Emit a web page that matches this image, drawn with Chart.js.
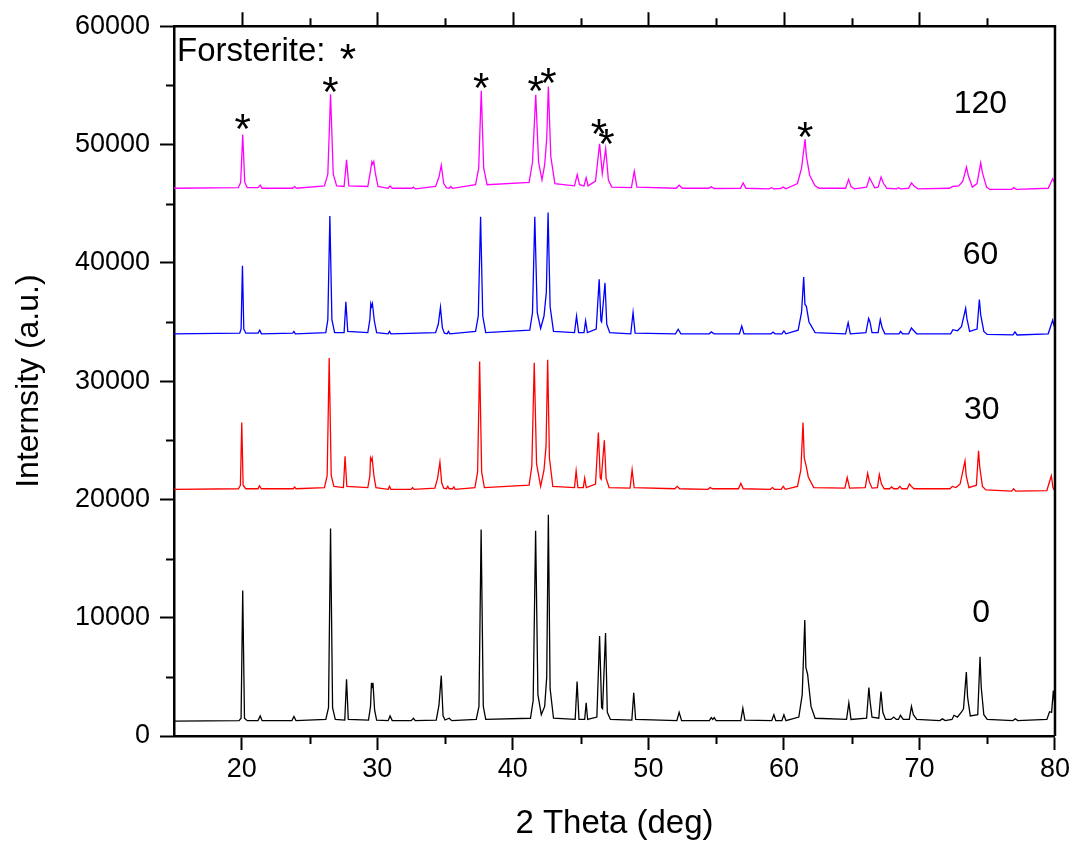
<!DOCTYPE html>
<html>
<head>
<meta charset="utf-8">
<script src="https://cdn.jsdelivr.net/npm/chart.js@4.4.1/dist/chart.umd.min.js"></script>
<style>
  html, body { margin: 0; padding: 0; background: #fff; }
  #wrap { width: 1073px; height: 844px; }
</style>
</head>
<body>
<div id="wrap"><canvas id="xrdChart" width="1073" height="844"></canvas></div>
<script>
// axis ticks
const xTicks = [20, 30, 40, 50, 60, 70, 80];
const yTicks = [0, 10000, 20000, 30000, 40000, 50000, 60000];

// milling time labels, bottom to top
const seriesNames = ['0', '30', '60', '120'];

// XRD patterns as [2theta, intensity]
const pattern0 = [
  [15, 1250], [19.8, 1300], [19.95, 1500], [20.07, 12300], [20.2, 1500], [20.4, 1300],
  [21.2, 1300], [21.36, 1700], [21.5, 1300],
  [23.7, 1300], [23.85, 1650], [24.0, 1300],
  [26.2, 1400], [26.4, 2400], [26.55, 17550], [26.7, 2400], [26.9, 1400],
  [27.6, 1350], [27.73, 4800], [27.86, 1400],
  [29.35, 1350], [29.5, 2500], [29.57, 4500], [29.62, 4100], [29.68, 4500], [29.8, 2200], [29.95, 1350],
  [30.8, 1300], [30.94, 1700], [31.1, 1300],
  [32.5, 1300], [32.67, 1500], [32.8, 1300],
  [34.35, 1350], [34.55, 2600], [34.72, 5100], [34.85, 1700], [35.0, 1350],
  [35.3, 1500], [35.5, 1300],
  [37.3, 1400], [37.5, 2500], [37.66, 17450], [37.82, 2500], [38.0, 1400],
  [41.3, 1500], [41.5, 3000], [41.68, 17350], [41.85, 3500], [42.1, 1800],
  [42.35, 2500], [42.5, 5000], [42.62, 18700], [42.75, 4000], [43.0, 1500],
  [44.6, 1400], [44.74, 4600], [44.88, 1400],
  [45.3, 1400], [45.41, 2800], [45.52, 1400],
  [46.2, 1600], [46.4, 8450], [46.55, 2400], [46.62, 2300], [46.84, 8700], [46.97, 2000], [47.2, 1400],
  [48.78, 1350], [48.92, 3650], [49.06, 1400],
  [52.1, 1300], [52.27, 2000], [52.45, 1300],
  [54.5, 1300], [54.64, 1550], [54.75, 1400], [54.86, 1550], [55.0, 1300],
  [56.82, 1300], [56.97, 2350], [57.12, 1350],
  [59.1, 1300], [59.26, 1800], [59.4, 1300],
  [59.85, 1300], [60.0, 1800], [60.15, 1300],
  [61.1, 1600], [61.35, 3500], [61.54, 9800], [61.62, 5800], [61.75, 5200], [61.85, 4100], [62.0, 2500], [62.3, 1500],
  [64.62, 1400], [64.79, 2800], [64.95, 1400],
  [66.1, 1500], [66.27, 4100], [66.35, 3000], [66.5, 1600],
  [67.0, 1500], [67.16, 3750], [67.3, 2000], [67.5, 1400],
  [67.9, 1400], [68.1, 1600], [68.3, 1400],
  [68.45, 1400], [68.6, 1750], [68.8, 1400],
  [69.25, 1400], [69.41, 2500], [69.55, 1800], [69.8, 1400],
  [71.5, 1300], [71.7, 1450], [71.9, 1300],
  [72.4, 1400], [72.55, 1750], [72.8, 1600], [73.12, 2050], [73.25, 2300], [73.46, 5400], [73.55, 3300], [73.75, 1700],
  [74.3, 1800], [74.47, 6700], [74.56, 4100], [74.75, 1800], [75.0, 1400],
  [76.9, 1300], [77.07, 1450], [77.25, 1300],
  [79.4, 1400], [79.6, 2050], [79.75, 2000], [79.88, 3850], [80.0, 2500]
];

const pattern30 = [
  [15, 20850], [19.75, 20900], [19.9, 21200], [20.0, 26500], [20.1, 21200], [20.3, 20900],
  [21.2, 20900], [21.3, 21150], [21.45, 20900],
  [23.8, 20900], [23.9, 21050], [24.0, 20900],
  [26.1, 21000], [26.3, 22000], [26.45, 31950], [26.6, 22000], [26.8, 21100],
  [27.5, 21000], [27.62, 23650], [27.75, 21100],
  [29.3, 21000], [29.45, 22000], [29.5, 23500], [29.56, 23300], [29.62, 23500], [29.75, 22000], [29.9, 21000],
  [30.8, 20850], [30.9, 21100], [31.0, 20850],
  [32.5, 20850], [32.6, 21000], [32.7, 20850],
  [34.25, 20950], [34.45, 21800], [34.62, 23150], [34.75, 21400], [34.9, 20950],
  [35.1, 20900], [35.2, 21100], [35.3, 20900], [35.55, 20900], [35.65, 21050], [35.75, 20850],
  [37.2, 21000], [37.4, 22300], [37.55, 31650], [37.7, 22300], [37.9, 21000],
  [41.2, 21200], [41.4, 22800], [41.58, 31550], [41.75, 23000], [42.05, 21100],
  [42.3, 22500], [42.45, 24500], [42.57, 31800], [42.7, 23500], [42.95, 21100],
  [44.55, 21000], [44.67, 22400], [44.8, 21000],
  [45.2, 21000], [45.3, 21800], [45.42, 21000],
  [46.1, 21300], [46.31, 25650], [46.45, 21800], [46.52, 21700], [46.75, 25000], [46.88, 21800], [47.1, 21000],
  [48.65, 20950], [48.8, 22500], [48.95, 21000],
  [51.95, 20900], [52.13, 21100], [52.3, 20900],
  [54.4, 20850], [54.55, 21000], [54.75, 20900],
  [56.65, 20900], [56.82, 21350], [57.0, 20900],
  [59.0, 20850], [59.15, 21000], [59.3, 20850],
  [59.8, 20850], [59.95, 21100], [60.1, 20850],
  [61.0, 21100], [61.25, 22500], [61.41, 26500], [61.5, 23500], [61.63, 22900], [61.8, 21900], [62.2, 21000],
  [64.5, 20950], [64.67, 21850], [64.85, 20950],
  [66.0, 21000], [66.18, 22200], [66.3, 21500], [66.5, 20950],
  [66.9, 21000], [67.04, 22100], [67.2, 21300], [67.4, 20900],
  [67.8, 20900], [67.95, 21050], [68.1, 20900], [68.4, 20900], [68.55, 21100], [68.7, 20900],
  [69.1, 20900], [69.26, 21300], [69.4, 21100], [69.6, 20900],
  [72.25, 20900], [72.42, 21100], [72.7, 21000], [73.0, 21300], [73.36, 23250], [73.45, 22000], [73.65, 21000],
  [74.2, 21200], [74.36, 24100], [74.45, 22700], [74.65, 21100], [74.9, 20800],
  [76.8, 20700], [76.95, 20900], [77.1, 20700],
  [79.4, 20750], [79.73, 22000], [79.85, 21000], [80, 20700]
];

const pattern60 = [
  [15, 34000], [19.85, 34050], [19.95, 34400], [20.05, 39750], [20.15, 34400], [20.3, 34050],
  [21.2, 34050], [21.33, 34300], [21.45, 34000],
  [23.75, 34050], [23.85, 34200], [23.95, 34000],
  [26.2, 34100], [26.35, 35200], [26.5, 43950], [26.65, 35200], [26.85, 34100],
  [27.55, 34100], [27.68, 36700], [27.82, 34200],
  [29.3, 34100], [29.45, 35200], [29.52, 36550], [29.58, 36300], [29.64, 36550], [29.78, 35100], [29.95, 34100],
  [30.8, 34000], [30.9, 34200], [31.0, 34000],
  [34.3, 34100], [34.5, 34800], [34.66, 36250], [34.8, 34500], [34.95, 34050],
  [35.15, 34000], [35.25, 34200], [35.35, 34000],
  [37.25, 34200], [37.45, 35500], [37.62, 43900], [37.78, 35500], [38.0, 34100],
  [41.25, 34300], [41.45, 35800], [41.62, 43900], [41.8, 35800], [42.05, 34450],
  [42.3, 35500], [42.47, 37500], [42.6, 44250], [42.75, 36300], [43.0, 34200],
  [44.55, 34100], [44.7, 35500], [44.85, 34100],
  [45.25, 34100], [45.37, 35100], [45.5, 34100],
  [46.15, 34400], [46.37, 38600], [46.5, 35100], [46.55, 35000], [46.8, 38300], [46.93, 34800], [47.15, 34100],
  [48.7, 34000], [48.87, 35800], [49.02, 34050],
  [52.0, 34000], [52.2, 34380], [52.4, 34000],
  [54.5, 34000], [54.64, 34160], [54.85, 34000],
  [56.72, 34000], [56.89, 34650], [57.05, 34000],
  [59.05, 34000], [59.2, 34150], [59.35, 34000],
  [59.85, 34000], [60.0, 34250], [60.15, 34000],
  [61.05, 34300], [61.3, 35800], [61.46, 38800], [61.55, 36500], [61.66, 36300], [61.85, 35000], [62.3, 34100],
  [64.55, 34000], [64.74, 34950], [64.9, 34000],
  [66.05, 34100], [66.25, 35300], [66.35, 35000], [66.5, 34100],
  [66.95, 34100], [67.11, 35200], [67.25, 34500], [67.45, 34000],
  [68.5, 34000], [68.6, 34200], [68.75, 34000],
  [69.2, 34000], [69.41, 34500], [69.55, 34300], [69.8, 34000],
  [72.3, 34000], [72.47, 34350], [72.8, 34250], [73.1, 34600], [73.41, 36150], [73.5, 35300], [73.7, 34200],
  [74.25, 34400], [74.42, 36900], [74.52, 35600], [74.75, 34200], [75.0, 33950],
  [76.9, 33900], [77.05, 34150], [77.2, 33900],
  [79.5, 34000], [79.83, 35150], [79.95, 34600], [80, 34400]
];

const pattern120 = [
  [15, 46300], [19.75, 46350], [19.92, 46800], [20.07, 50850], [20.22, 46800], [20.4, 46350],
  [21.2, 46350], [21.36, 46560], [21.5, 46300],
  [23.75, 46300], [23.9, 46450], [24.05, 46300],
  [26.1, 46500], [26.35, 47500], [26.55, 54250], [26.75, 47500], [27.0, 46500],
  [27.55, 46450], [27.73, 48700], [27.9, 46500],
  [29.3, 46450], [29.5, 47800], [29.6, 48550], [29.67, 48350], [29.74, 48550], [29.85, 47600], [30.05, 46450],
  [30.8, 46300], [30.94, 46500], [31.1, 46300],
  [32.55, 46300], [32.67, 46400], [32.8, 46250],
  [34.3, 46450], [34.55, 47250], [34.72, 48250], [34.9, 46700], [35.1, 46350],
  [35.3, 46300], [35.42, 46450], [35.55, 46300],
  [37.25, 46600], [37.48, 48000], [37.67, 54550], [37.85, 48000], [38.1, 46600],
  [41.2, 46800], [41.45, 48500], [41.69, 54200], [41.9, 48500], [42.15, 47000],
  [42.35, 48300], [42.5, 50500], [42.62, 54900], [42.8, 49000], [43.1, 46700],
  [44.55, 46500], [44.75, 47450], [44.92, 46600],
  [45.25, 46500], [45.41, 47200], [45.55, 46500],
  [46.1, 46900], [46.4, 50050], [46.6, 47550], [46.85, 49650], [47.05, 47000], [47.3, 46400],
  [48.75, 46350], [48.96, 47750], [49.15, 46400],
  [52.05, 46300], [52.27, 46560], [52.5, 46300],
  [54.45, 46300], [54.64, 46420], [54.85, 46280],
  [56.8, 46300], [56.99, 46750], [57.2, 46300],
  [58.9, 46250], [59.08, 46350], [59.25, 46250],
  [59.75, 46280], [59.95, 46400], [60.15, 46250],
  [61.0, 46700], [61.3, 48000], [61.56, 50450], [61.66, 49000], [61.75, 48400], [61.9, 47400], [62.3, 46500], [62.6, 46300],
  [64.55, 46300], [64.77, 47050], [64.95, 46450], [65.2, 46250],
  [66.1, 46400], [66.32, 47200], [66.45, 46900], [66.7, 46350],
  [66.95, 46400], [67.17, 47250], [67.35, 46700], [67.6, 46300],
  [68.3, 46250], [68.45, 46350], [68.6, 46250],
  [69.2, 46300], [69.41, 46750], [69.6, 46500], [69.9, 46250],
  [72.2, 46300], [72.45, 46450], [72.9, 46500], [73.2, 46900], [73.47, 48100], [73.6, 47400], [73.9, 46400],
  [74.25, 46700], [74.52, 48450], [74.65, 47600], [74.95, 46400], [75.2, 46200],
  [76.8, 46200], [76.95, 46350], [77.15, 46200],
  [79.5, 46300], [79.83, 47100], [80, 46700]
];

// forsterite peaks marked with * on the top pattern
const starTheta = [20.07, 26.55, 37.67, 41.69, 42.62, 46.35, 46.9, 61.56];
const starLevel = [51900, 55000, 55400, 55100, 55800, 51500, 50600, 51200];

const patterns = [pattern0, pattern30, pattern60, pattern120];
const lineColors = ['#000000', '#ff0000', '#0000ff', '#ff00ff'];
const namePos = [[74.55, 10600], [74.6, 27700], [74.5, 40800], [74.5, 53600]];

const fontFamily = '"Liberation Sans", Arial, sans-serif';
const starFont = '42px "Liberation Sans", Arial, sans-serif';

// draws text centred on its real glyph box
function drawCentered(ctx, text, px, py) {
  const m = ctx.measureText(text);
  const base = py + (m.actualBoundingBoxAscent - m.actualBoundingBoxDescent) / 2;
  ctx.fillText(text, px, base);
}

const framePlugin = {
  id: 'frame',
  afterDraw(chart) {
    const { ctx, chartArea: a, scales: { x, y } } = chart;
    ctx.save();
    ctx.strokeStyle = '#000';
    ctx.lineWidth = 2.5;
    ctx.beginPath();
    ctx.moveTo(a.left, a.top);
    ctx.lineTo(a.right, a.top);
    ctx.lineTo(a.right, a.bottom);
    ctx.stroke();

    ctx.lineWidth = 2;
    ctx.beginPath();
    for (let v = 20; v <= 75; v += 5) {
      const px = Math.round(x.getPixelForValue(v)) + 0.5;
      const major = v % 10 === 0;
      ctx.moveTo(px, a.top);
      ctx.lineTo(px, a.top - (major ? 14 : 8));
      if (!major) {
        ctx.moveTo(px, a.bottom);
        ctx.lineTo(px, a.bottom + 8);
      }
    }
    for (let v = 5000; v < 60000; v += 10000) {
      const py = Math.round(y.getPixelForValue(v)) + 0.5;
      ctx.moveTo(a.left, py);
      ctx.lineTo(a.left - 8, py);
    }
    ctx.stroke();

    // series names
    ctx.fillStyle = '#000';
    ctx.textAlign = 'center';
    ctx.font = '32px ' + fontFamily;
    seriesNames.forEach((name, i) => {
      drawCentered(ctx, name, x.getPixelForValue(namePos[i][0]), y.getPixelForValue(namePos[i][1]));
    });

    // asterisks
    ctx.font = starFont;
    starTheta.forEach((t, i) => {
      drawCentered(ctx, '*', x.getPixelForValue(t), y.getPixelForValue(starLevel[i]));
    });

    // legend text
    ctx.textAlign = 'left';
    ctx.font = '33px ' + fontFamily;
    ctx.fillText('Forsterite:', a.left + 3, a.top + 35);
    ctx.textAlign = 'center';
    ctx.font = starFont;
    drawCentered(ctx, '*', a.left + 174, a.top + 26);
    ctx.restore();
  }
};

const ctx = document.getElementById('xrdChart').getContext('2d');
new Chart(ctx, {
  type: 'line',
  data: {
    datasets: patterns.map((p, i) => ({
      label: seriesNames[i],
      data: p.map(([t, c]) => ({ x: t, y: c })),
      borderColor: lineColors[i],
      borderWidth: 1.3,
      pointRadius: 0,
      tension: 0,
      fill: false
    }))
  },
  options: {
    responsive: false,
    animation: false,
    layout: { padding: { top: 22, right: 18, left: 0, bottom: 0 } },
    plugins: {
      legend: { display: false },
      tooltip: { enabled: false }
    },
    scales: {
      x: {
        type: 'linear',
        min: 15,
        max: 80,
        afterBuildTicks: axis => { axis.ticks = xTicks.map(v => ({ value: v })); },
        afterFit: axis => { axis.height = 108; },
        grid: { drawOnChartArea: false, drawTicks: true, tickLength: 14, tickWidth: 2, tickColor: '#000' },
        border: { display: true, color: '#000', width: 2.5 },
        ticks: { color: '#000', font: { family: fontFamily, size: 27 }, padding: 3, maxRotation: 0 },
        title: { display: true, text: '2 Theta (deg)', color: '#000', font: { family: fontFamily, size: 33 }, padding: { top: 0, bottom: 0 } }
      },
      y: {
        min: 0,
        max: 60000,
        afterBuildTicks: axis => { axis.ticks = yTicks.map(v => ({ value: v })); },
        afterFit: axis => { axis.width = 174; },
        grid: { drawOnChartArea: false, drawTicks: true, tickLength: 14, tickWidth: 2, tickColor: '#000' },
        border: { display: true, color: '#000', width: 2.5 },
        ticks: { color: '#000', font: { family: fontFamily, size: 27 }, padding: 10, callback: v => String(v) },
        title: { display: true, text: 'Internsity (a.u.)', color: '#000', font: { family: fontFamily, size: 32 }, padding: { top: 10, bottom: 0 } }
      }
    }
  },
  plugins: [framePlugin]
});
</script>
</body>
</html>
